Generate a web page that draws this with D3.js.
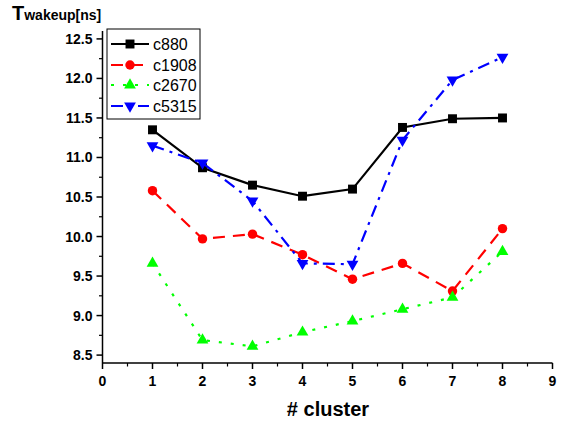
<!DOCTYPE html>
<html>
<head>
<style>
  body { margin: 0; background: #fff; }
  svg text { font-family: "Liberation Sans", Arial, sans-serif; font-weight: bold; fill: #000; }
</style>
<script src="https://d3js.org/d3.v7.min.js"></script>
</head>
<body>
<svg width="563" height="421"></svg>
<script>
// data
var clusters = [1, 2, 3, 4, 5, 6, 7, 8];
var c880  = [11.35, 10.87, 10.65, 10.51, 10.60, 11.38, 11.49, 11.50];
var c1908 = [10.58, 9.97, 10.03, 9.77, 9.46, 9.66, 9.31, 10.10];
var c2670 = [9.66, 8.69, 8.61, 8.79, 8.93, 9.08, 9.23, 9.81];
var c5315 = [11.15, 10.93, 10.45, 9.66, 9.65, 11.22, 11.98, 12.27];
var seriesNames = ["c880", "c1908", "c2670", "c5315"];
var xTicks = [0, 1, 2, 3, 4, 5, 6, 7, 8, 9];
var yTicks = [8.5, 9.0, 9.5, 10.0, 10.5, 11.0, 11.5, 12.0, 12.5];

var series = [
  { name: seriesNames[0], values: c880,  color: "#000000", dash: null,        marker: d3.symbolSquare,   size: 80 },
  { name: seriesNames[1], values: c1908, color: "#ff0000", dash: "12,8",      marker: d3.symbolCircle,   size: 70 },
  { name: seriesNames[2], values: c2670, color: "#00ff00", dash: "3,9",       marker: d3.symbolTriangle, size: 60 },
  { name: seriesNames[3], values: c5315, color: "#0000ff", dash: "12,6,3,6",  marker: d3.symbolTriangle, size: 60, down: true }
];

var svg = d3.select("svg");
var x = d3.scaleLinear().domain([0, 9]).range([102.5, 552.5]);
var y = d3.scaleLinear().domain([8.4, 12.6]).range([363, 31]);

// axes
var xAxis = svg.append("g").attr("transform", "translate(0,363)");
xAxis.append("line").attr("x1", x(0)).attr("x2", x(9)).attr("stroke", "#000").attr("stroke-width", 1.5);
xTicks.forEach(function(t) {
  xAxis.append("line").attr("x1", x(t)).attr("x2", x(t)).attr("y1", 0).attr("y2", 6).attr("stroke", "#000").attr("stroke-width", 1.5);
  xAxis.append("text").attr("x", x(t)).attr("y", 23).attr("text-anchor", "middle").style("font-size", "14px").text(t);
  if (t < 9) xAxis.append("line").attr("x1", x(t + 0.5)).attr("x2", x(t + 0.5)).attr("y1", 0).attr("y2", 3.5).attr("stroke", "#000").attr("stroke-width", 1.2);
});

var yAxis = svg.append("g").attr("transform", "translate(102.5,0)");
yAxis.append("line").attr("y1", y(8.4)).attr("y2", y(12.6)).attr("stroke", "#000").attr("stroke-width", 1.5);
yTicks.forEach(function(t) {
  yAxis.append("line").attr("x1", -6).attr("x2", 0).attr("y1", y(t)).attr("y2", y(t)).attr("stroke", "#000").attr("stroke-width", 1.5);
  yAxis.append("text").attr("x", -10).attr("y", y(t) + 5).attr("text-anchor", "end").style("font-size", "14px").text(t.toFixed(1));
  if (t < 12.5) yAxis.append("line").attr("x1", -3.5).attr("x2", 0).attr("y1", y(t + 0.25)).attr("y2", y(t + 0.25)).attr("stroke", "#000").attr("stroke-width", 1.2);
});

// axis titles
var yt = svg.append("text").attr("x", 12).attr("y", 20);
yt.append("tspan").style("font-size", "20px").text("T");
yt.append("tspan").style("font-size", "14px").text("wakeup[ns]");
svg.append("text").attr("x", 328).attr("y", 416).attr("text-anchor", "middle").style("font-size", "20px").text("# cluster");

var line = d3.line().x(function(d, i) { return x(clusters[i]); }).y(function(d) { return y(d); });

function drawMarker(g, s, px, py) {
  g.append("path")
    .attr("d", d3.symbol().type(s.marker).size(s.size)())
    .attr("transform", "translate(" + px + "," + py + ")" + (s.down ? " rotate(180)" : ""))
    .attr("fill", s.color);
}

series.forEach(function(s) {
  var g = svg.append("g");
  g.append("path").datum(s.values).attr("d", line)
    .attr("fill", "none").attr("stroke", s.color).attr("stroke-width", 2.2)
    .attr("stroke-dasharray", s.dash);
  s.values.forEach(function(v, i) { drawMarker(g, s, x(clusters[i]), y(v)); });
});

// legend
var leg = svg.append("g");
leg.append("rect").attr("x", 107).attr("y", 29).attr("width", 93).attr("height", 90)
  .attr("fill", "#fff").attr("stroke", "#000").attr("stroke-width", 1);
var rowY = [44, 65, 85, 106];
series.forEach(function(s, i) {
  leg.append("line").attr("x1", 111).attr("x2", 149).attr("y1", rowY[i]).attr("y2", rowY[i])
    .attr("stroke", s.color).attr("stroke-width", 2.2).attr("stroke-dasharray", s.dash);
  drawMarker(leg, s, 130, rowY[i]);
  leg.append("text").attr("x", 153).attr("y", rowY[i] + 6).style("font-size", "16px").style("font-weight", "normal").text(s.name);
});
</script>
</body>
</html>
